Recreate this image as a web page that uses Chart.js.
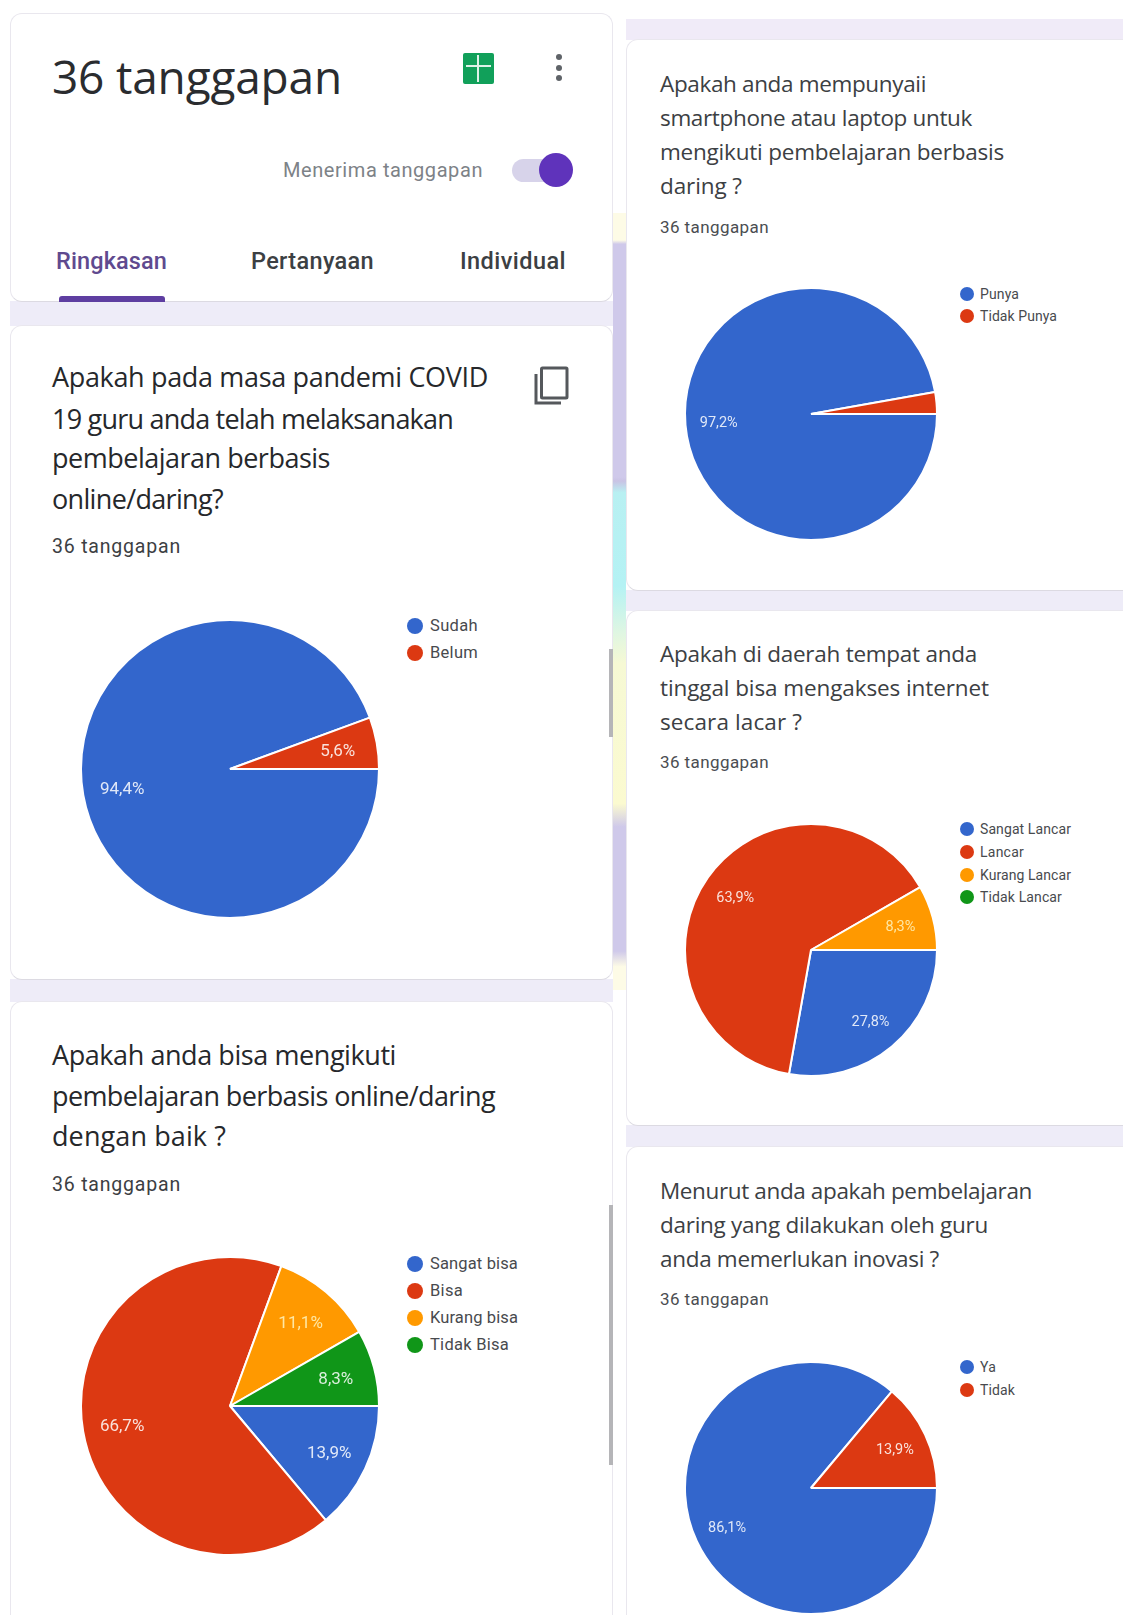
<!DOCTYPE html>
<html lang="id">
<head>
<meta charset="utf-8">
<title>36 tanggapan</title>
<script src="https://cdn.jsdelivr.net/npm/chart.js@4/dist/chart.umd.min.js"></script>
<style>
html,body{margin:0;padding:0;background:#fff;}
#page{position:relative;width:1123px;height:1615px;overflow:hidden;background:#fff;filter:blur(0.3px);}
.abs{position:absolute;}
.card{position:absolute;background:#fff;border:1px solid #e9e7ee;border-bottom-color:#dcdae2;border-radius:12px;box-sizing:border-box;}
.strip{position:absolute;background:#eeecf8;}
.t{position:absolute;white-space:pre;line-height:1;}
canvas{position:absolute;display:block;}
.dot{position:absolute;border-radius:50%;}
</style>
</head>
<body>
<div id="page">
  <div class="abs" id="deco" style="left:613px;top:213px;width:13px;height:777px;background:linear-gradient(180deg,#fdfbe6 0,#fdfbe6 3.5%,#cfc9ea 4%,#cfc9ea 34%,#c9c3e4 34.5%,#b8f0f2 36%,#b4f2f4 48%,#dff6e2 54%,#f6f9d4 58%,#fbfad0 76%,#cfc9ea 79%,#cfc9ea 95%,#fdfbe6 97%);"></div>
  <div class="strip" style="left:10px;top:301px;width:603px;height:25px;"></div>
  <div class="strip" style="left:10px;top:979px;width:603px;height:23px;"></div>
  <div class="strip" style="left:626px;top:19px;width:497px;height:21px;background:#f0ebf8;"></div>
  <div class="strip" style="left:626px;top:590px;width:497px;height:21px;"></div>
  <div class="strip" style="left:626px;top:1125px;width:497px;height:22px;"></div>

  <div class="card" style="left:10px;top:13px;width:603px;height:289px;"></div>
  <div class="card" style="left:10px;top:325px;width:603px;height:655px;"></div>
  <div class="card" style="left:10px;top:1001px;width:603px;height:626px;"></div>
  <div class="card" style="left:626px;top:39px;width:520px;height:552px;"></div>
  <div class="card" style="left:626px;top:610px;width:520px;height:516px;"></div>
  <div class="card" style="left:626px;top:1146px;width:520px;height:492px;"></div>

  <!-- scrollbar fragments -->
  <div class="abs" style="left:609px;top:649px;width:4px;height:88px;background:#b5b5b8;"></div>
  <div class="abs" style="left:609px;top:1205px;width:4px;height:260px;background:#b5b5b8;"></div>

  <!-- header controls -->
  <div class="abs" style="left:463px;top:53px;width:31px;height:31px;background:#11a05a;border-radius:2px;"></div>
  <div class="abs" style="left:477px;top:55px;width:2px;height:27px;background:#dff2e8;"></div>
  <div class="abs" style="left:466px;top:65px;width:25px;height:2px;background:#dff2e8;"></div>
  <div class="dot" style="left:556px;top:54px;width:6px;height:6px;background:#5f6368;"></div>
  <div class="dot" style="left:556px;top:65px;width:6px;height:6px;background:#5f6368;"></div>
  <div class="dot" style="left:556px;top:75px;width:6px;height:6px;background:#5f6368;"></div>
  <div class="abs" style="left:512px;top:159px;width:46px;height:23px;border-radius:12px;background:#d7d3ea;"></div>
  <div class="dot" style="left:539px;top:153px;width:34px;height:34px;background:#5f33bb;"></div>
  <div class="abs" style="left:59px;top:296px;width:106px;height:6px;background:#5e3ea1;border-radius:3px 3px 0 0;"></div>
  <svg class="abs" style="left:534px;top:366px;" width="36" height="40" viewBox="0 0 36 40">
    <rect x="7.5" y="2" width="25.5" height="30" rx="1" fill="none" stroke="#55585c" stroke-width="3"/>
    <path d="M2 8 V37 H27" fill="none" stroke="#55585c" stroke-width="3"/>
  </svg>
</div>

<script>
// ---- chart data (percent of 36 responses, as printed on the slices) ----
const labelsCovid   = ["Sudah", "Belum"];
const valuesCovid   = [94.4, 5.6];
const labelsBisa    = ["Sangat bisa", "Bisa", "Kurang bisa", "Tidak Bisa"];
const valuesBisa    = [13.9, 66.7, 11.1, 8.3];
const labelsPunya   = ["Punya", "Tidak Punya"];
const valuesPunya   = [97.2, 2.8];
const labelsLancar  = ["Sangat Lancar", "Lancar", "Kurang Lancar", "Tidak Lancar"];
const valuesLancar  = [27.8, 63.9, 8.3, 0];
const labelsInovasi = ["Ya", "Tidak"];
const valuesInovasi = [86.1, 13.9];
const sliceColors   = ["#3366cc", "#dc3912", "#ff9900", "#109618"];

const page = document.getElementById('page');
const FONT_Q = '"Open Sans", sans-serif';
const FONT_R = 'Roboto, sans-serif';

function text(str, x, baseline, size, width, opt) {
  opt = opt || {};
  const el = document.createElement('span');
  el.className = 't';
  el.textContent = str;
  el.style.fontFamily = opt.font || FONT_R;
  el.style.fontSize = size + 'px';
  el.style.fontWeight = opt.weight || 400;
  el.style.color = opt.color || '#3c4043';
  el.style.left = x + 'px';
  page.appendChild(el);
  if (width) {
    const w = el.getBoundingClientRect().width;
    el.style.letterSpacing = ((width - w) / str.length).toFixed(3) + 'px';
  }
  const probe = document.createElement('canvas').getContext('2d');
  probe.font = `${opt.weight || 400} ${size}px ${opt.font || FONT_R}`;
  const m = probe.measureText(str);
  const boxH = el.getBoundingClientRect().height;
  const asc = m.fontBoundingBoxAscent, desc = m.fontBoundingBoxDescent;
  el.style.top = (baseline - (boxH + asc - desc) / 2) + 'px';
  return el;
}

// header
text('36 tanggapan', 52, 94, 46, 290, {font: FONT_Q, weight: 400, color: '#2a2c2f'});
text('Menerima tanggapan', 283, 177, 20, 200, {color: '#7d8287'});
text('Ringkasan', 56, 270, 23.5, 111, {weight: 500, color: '#5f4a8f'});
text('Pertanyaan', 251, 270, 23.5, 123, {weight: 500, color: '#3c4043'});
text('Individual', 460, 270, 23.5, 106, {weight: 500, color: '#3c4043'});

// question blocks
function question(lines, x, baselines, widths, size, color) {
  lines.forEach((l, i) => text(l, x, baselines[i], size, widths[i], {font: FONT_Q, color}));
}
question(['Apakah pada masa pandemi COVID','19 guru anda telah melaksanakan','pembelajaran berbasis','online/daring?'],
  52, [387,429,468,509], [436,401,278,171], 27, '#26282b');
text('36 tanggapan', 52, 553, 19.5, 129, {color:'#3c4043'});
question(['Apakah anda bisa mengikuti','pembelajaran berbasis online/daring','dengan baik ?'],
  52, [1065,1106,1146], [344,443,174], 27, '#26282b');
text('36 tanggapan', 52, 1191, 19.5, 129, {color:'#3c4043'});
question(['Apakah anda mempunyaii','smartphone atau laptop untuk','mengikuti pembelajaran berbasis','daring ?'],
  660, [93,127,161,195], [266,312,344,82], 22.5, '#3c4043');
text('36 tanggapan', 660, 233, 17, 109, {color:'#4a4d51'});
question(['Apakah di daerah tempat anda','tinggal bisa mengakses internet','secara lacar ?'],
  660, [663,697,731], [317,329,142], 22.5, '#3c4043');
text('36 tanggapan', 660, 768, 17, 109, {color:'#4a4d51'});
question(['Menurut anda apakah pembelajaran','daring yang dilakukan oleh guru','anda memerlukan inovasi ?'],
  660, [1200,1234,1268], [372,328,279], 22.5, '#3c4043');
text('36 tanggapan', 660, 1305, 17, 109, {color:'#4a4d51'});

// pie value labels drawn from each arc's own geometry
const pieLabels = {
  id: 'pieLabels',
  afterDatasetsDraw(chart, args, o) {
    const {ctx} = chart;
    const ds = chart.data.datasets[0];
    chart.getDatasetMeta(0).data.forEach((arc, i) => {
      const v = ds.data[i];
      if (v < 5) return;
      const {x, y, startAngle, endAngle, outerRadius} = arc.getProps(['x','y','startAngle','endAngle','outerRadius'], true);
      const mid = (startAngle + endAngle) / 2;
      const r = outerRadius * 0.735;
      ctx.save();
      ctx.font = `${o.size}px Roboto, sans-serif`;
      ctx.fillStyle = i === 2 ? 'rgba(255,240,180,.9)' : 'rgba(255,255,255,.85)';
      ctx.textAlign = 'center';
      ctx.textBaseline = 'middle';
      ctx.fillText(v.toFixed(1).replace('.', ',') + '%', x + Math.cos(mid) * r, y + Math.sin(mid) * r + 1.5);
      ctx.restore();
    });
  }
};

function pie(labels, values, cx, cy, r, labelSize, legendX, legendYs, legendSize, dotR, textX, textWidths) {
  const c = document.createElement('canvas');
  const s = 2 * r + 6;
  c.width = s; c.height = s;
  c.style.left = (cx - s / 2) + 'px';
  c.style.top = (cy - s / 2) + 'px';
  c.style.width = s + 'px';
  c.style.height = s + 'px';
  page.appendChild(c);
  new Chart(c, {
    type: 'pie',
    data: {labels, datasets: [{data: values, backgroundColor: sliceColors, borderColor: '#ffffff', borderWidth: 2, hoverOffset: 0}]},
    options: {
      responsive: false, animation: false, rotation: 90, radius: r,
      layout: {padding: 0},
      plugins: {legend: {display: false}, tooltip: {enabled: false}, pieLabels: {size: labelSize}}
    },
    plugins: [pieLabels]
  });
  labels.forEach((l, i) => {
    const d = document.createElement('div');
    d.className = 'dot';
    d.style.cssText = `left:${legendX - dotR}px;top:${legendYs[i] - dotR}px;width:${2*dotR}px;height:${2*dotR}px;background:${sliceColors[i]};`;
    page.appendChild(d);
    text(l, textX, legendYs[i] + legendSize * 0.36 - 0.5, legendSize, textWidths[i], {color: '#484a4e'});
  });
}

pie(labelsCovid,   valuesCovid,   230, 769,  149, 17,   415, [626,653],             16.5, 8, 430, [48,48]);
pie(labelsBisa,    valuesBisa,    230, 1406, 149, 17,   415, [1264,1291,1318,1345], 16.5, 8, 430, [88,33,88,79]);
pie(labelsPunya,   valuesPunya,   811, 414,  126, 14.5, 967, [294,316],             14,   7, 980, [39,77]);
pie(labelsLancar,  valuesLancar,  811, 950,  126, 14.5, 967, [829,852,875,897],     14,   7, 980, [91,44,91,82]);
pie(labelsInovasi, valuesInovasi, 811, 1488, 126, 14.5, 967, [1367,1390],           14,   7, 980, [16,35]);
</script>
</body>
</html>
